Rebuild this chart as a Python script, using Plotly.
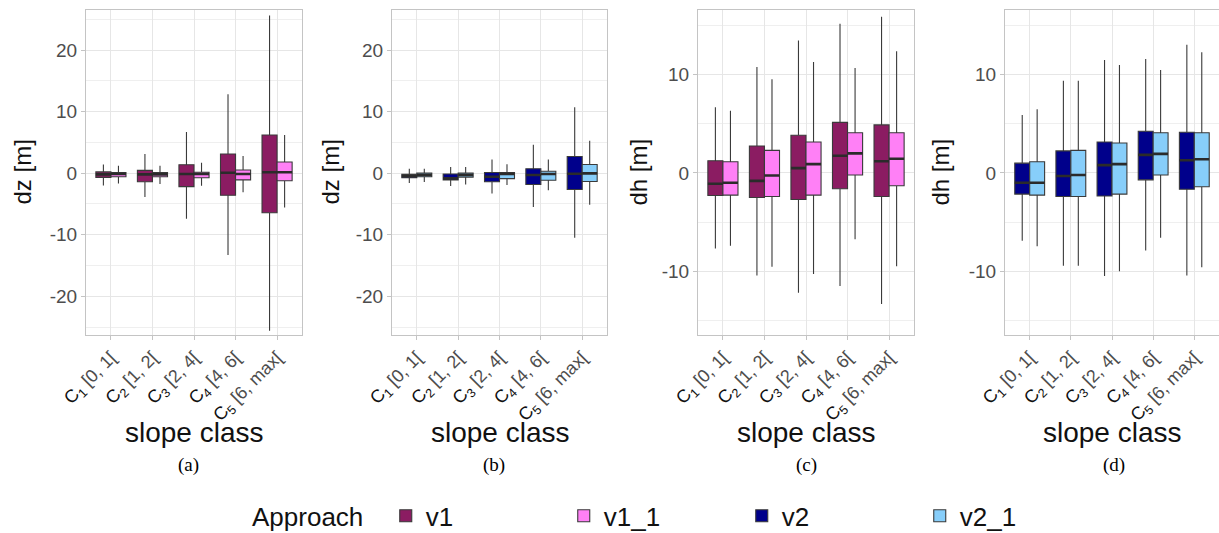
import plotly.graph_objects as go

# ---------------- data ----------------
class_idx = ["1", "2", "3", "4", "5"]
intervals = ["[0, 1[", "[1, 2[", "[2, 4[", "[4, 6[", "[6, max["]
categories = [f'<span style="color:#111111">C<sub>{c}</sub></span> {iv}' for c, iv in zip(class_idx, intervals)]

dz_ticks = [-20, -10, 0, 10, 20]
dh_ticks = [-10, 0, 10]

# panel (a): dz, v1 / v1_1
a_v1_lf = [-2.0, -3.9, -7.4, -13.3, -25.6]
a_v1_q1 = [-0.7, -1.4, -2.2, -3.6, -6.45]
a_v1_med = [-0.2, -0.2, -0.15, 0.05, 0.15]
a_v1_q3 = [0.2, 0.45, 1.35, 3.1, 6.2]
a_v1_uf = [1.4, 3.1, 6.7, 12.8, 25.6]

a_v11_lf = [-1.7, -1.75, -2.05, -3.1, -5.6]
a_v11_q1 = [-0.6, -0.6, -0.75, -1.1, -1.25]
a_v11_med = [-0.15, -0.2, -0.15, -0.15, 0.15]
a_v11_q3 = [0.1, 0.1, 0.15, 0.5, 1.8]
a_v11_uf = [1.2, 1.2, 1.7, 2.8, 6.2]

# panel (b): dz, v2 / v2_1
b_v2_lf = [-1.6, -2.1, -3.3, -5.5, -10.5]
b_v2_q1 = [-0.75, -1.1, -1.4, -1.85, -2.65]
b_v2_med = [-0.5, -0.85, -0.6, -0.3, -0.1]
b_v2_q3 = [-0.2, -0.15, 0.1, 0.7, 2.7]
b_v2_uf = [0.7, 1.0, 2.2, 4.6, 10.7]

b_v21_lf = [-1.45, -1.85, -1.95, -2.8, -5.15]
b_v21_q1 = [-0.6, -0.65, -0.9, -1.15, -1.35]
b_v21_med = [-0.3, -0.3, -0.15, -0.15, -0.05]
b_v21_q3 = [0.0, 0.0, 0.1, 0.3, 1.4]
b_v21_uf = [0.7, 1.0, 1.45, 2.2, 5.25]

# panel (c): dh, v1 / v1_1
c_v1_lf = [-7.7, -10.45, -12.2, -11.5, -13.35]
c_v1_q1 = [-2.3, -2.5, -2.7, -1.6, -2.4]
c_v1_med = [-1.1, -0.8, 0.5, 1.75, 1.2]
c_v1_q3 = [1.25, 2.75, 3.85, 5.15, 4.9]
c_v1_uf = [6.7, 10.8, 13.5, 15.2, 15.9]

c_v11_lf = [-7.4, -9.55, -10.3, -6.75, -9.5]
c_v11_q1 = [-2.25, -2.4, -2.25, -0.2, -1.3]
c_v11_med = [-1.0, -0.25, 0.9, 2.0, 1.45]
c_v11_q3 = [1.15, 2.3, 3.15, 4.1, 4.1]
c_v11_uf = [6.35, 9.55, 11.3, 10.7, 12.4]

# panel (d): dh, v2 / v2_1
d_v2_lf = [-6.9, -9.45, -10.5, -7.9, -10.45]
d_v2_q1 = [-2.15, -2.4, -2.35, -0.7, -1.65]
d_v2_med = [-1.0, -0.3, 0.8, 1.85, 1.3]
d_v2_q3 = [1.0, 2.25, 3.15, 4.25, 4.15]
d_v2_uf = [5.9, 9.4, 11.5, 11.6, 13.05]

d_v21_lf = [-7.45, -9.45, -10.0, -6.6, -9.6]
d_v21_q1 = [-2.25, -2.4, -2.15, -0.2, -1.4]
d_v21_med = [-1.0, -0.2, 0.9, 1.95, 1.4]
d_v21_q3 = [1.15, 2.3, 3.05, 4.1, 4.1]
d_v21_uf = [6.5, 9.4, 11.0, 10.5, 12.3]

colors = {"v1": "#8B1C62", "v1_1": "#FF80F6", "v2": "#00008B", "v2_1": "#87CEFA"}

panels = [
    ("x", "y", [("v1", a_v1_lf, a_v1_q1, a_v1_med, a_v1_q3, a_v1_uf),
                ("v1_1", a_v11_lf, a_v11_q1, a_v11_med, a_v11_q3, a_v11_uf)]),
    ("x2", "y2", [("v2", b_v2_lf, b_v2_q1, b_v2_med, b_v2_q3, b_v2_uf),
                  ("v2_1", b_v21_lf, b_v21_q1, b_v21_med, b_v21_q3, b_v21_uf)]),
    ("x3", "y3", [("v1", c_v1_lf, c_v1_q1, c_v1_med, c_v1_q3, c_v1_uf),
                  ("v1_1", c_v11_lf, c_v11_q1, c_v11_med, c_v11_q3, c_v11_uf)]),
    ("x4", "y4", [("v2", d_v2_lf, d_v2_q1, d_v2_med, d_v2_q3, d_v2_uf),
                  ("v2_1", d_v21_lf, d_v21_q1, d_v21_med, d_v21_q3, d_v21_uf)]),
]

fig = go.Figure()
shown = set()
# main boxes
for xa, ya, series in panels:
    for name, lf, q1, med, q3, uf in series:
        fig.add_trace(go.Box(
            x=categories, lowerfence=lf, q1=q1, median=med, q3=q3, upperfence=uf,
            name=name, legendgroup=name, showlegend=name not in shown,
            offsetgroup=name, fillcolor=colors[name],
            line=dict(color="#3a3a3a", width=1.1), whiskerwidth=0,
            boxpoints=False, xaxis=xa, yaxis=ya, hoverinfo="skip"))
        shown.add(name)
# thicker median overlays
for xa, ya, series in panels:
    for name, lf, q1, med, q3, uf in series:
        fig.add_trace(go.Box(
            x=categories, lowerfence=med, q1=med, median=med, q3=med, upperfence=med,
            name=name, legendgroup=name, showlegend=False, offsetgroup=name,
            fillcolor="rgba(0,0,0,0)", line=dict(color="#2b2b2b", width=2.6),
            whiskerwidth=0, boxpoints=False, xaxis=xa, yaxis=ya, hoverinfo="skip"))

W, H = 1219, 533
xdom = [(86, 302), (392, 607), (698, 914), (1005, 1219)]
ydom = [1 - 335 / H, 1 - 10 / H]
yranges = [[-26.3, 26.5], [-26.3, 26.5], [-16.5, 16.6], [-16.5, 16.6]]
yticks = [dz_ticks, dz_ticks, dh_ticks, dh_ticks]

grid = "#E6E6E6"
border = "#C4C4C4"
layout = dict(
    template="none",
    width=W, height=H, margin=dict(l=0, r=0, t=0, b=0, pad=0, autoexpand=False),
    paper_bgcolor="white", plot_bgcolor="white",
    boxmode="group", boxgap=0.275, boxgroupgap=0.0,
    font=dict(family="Liberation Sans, Arial, sans-serif", color="#4D4D4D"),
    showlegend=True,
)
for i in range(4):
    sfx = "" if i == 0 else str(i + 1)
    layout["xaxis" + sfx] = dict(
        domain=[xdom[i][0] / W, xdom[i][1] / W], anchor="y" + sfx,
        type="category", categoryorder="array", categoryarray=categories,
        range=[-0.6, 4.6], showgrid=True, gridcolor=grid, gridwidth=1,
        showline=True, linecolor=border, linewidth=1, mirror=True,
        ticks="outside", ticklen=4, tickcolor=border, tickangle=-45,
        tickfont=dict(size=18, color="#4D4D4D"), zeroline=False, automargin=False)
    layout["yaxis" + sfx] = dict(
        domain=ydom, anchor="x" + sfx, range=yranges[i],
        tickmode="array", tickvals=yticks[i], ticktext=[str(v) for v in yticks[i]],
        showgrid=True, gridcolor=grid, gridwidth=1,
        minor=dict(tickmode="linear", tick0=0, dtick=5, showgrid=True, gridcolor="#EFEFEF", gridwidth=1, ticks=""),
        showline=True, linecolor=border, linewidth=1, mirror=True,
        ticks="outside", ticklen=4, tickcolor=border,
        tickfont=dict(size=19, color="#4D4D4D"), zeroline=False, automargin=False)

layout["legend"] = dict(
    orientation="h", x=250 / W, xanchor="left", y=-0.012, yanchor="bottom",
    title=dict(text="Approach&nbsp;&nbsp;", side="left", font=dict(size=26, color="#111111")),
    font=dict(size=26, color="#111111"), entrywidth=133, bgcolor="rgba(0,0,0,0)")

fig.update_layout(**layout)

ytitles = ["dz [m]", "dz [m]", "dh [m]", "dh [m]"]
ytitle_x = [22, 330, 638, 940]
xtitle_c = [194, 500, 806, 1112]
captions = ["(a)", "(b)", "(c)", "(d)"]
caption_x = [188, 494, 806, 1114]
for i in range(4):
    fig.add_annotation(text=ytitles[i], x=ytitle_x[i] / W, y=1 - 172.5 / H,
                       xref="paper", yref="paper", textangle=-90, showarrow=False,
                       font=dict(size=24, color="#111111"), xanchor="center", yanchor="middle")
    fig.add_annotation(text="slope class", x=xtitle_c[i] / W, y=1 - 432 / H,
                       xref="paper", yref="paper", showarrow=False,
                       font=dict(size=28, color="#111111"), xanchor="center", yanchor="middle")
    fig.add_annotation(text=captions[i], x=caption_x[i] / W, y=1 - 465 / H,
                       xref="paper", yref="paper", showarrow=False,
                       font=dict(size=19, color="#000000", family="Liberation Serif, Times New Roman, serif"),
                       xanchor="center", yanchor="middle")

fig.write_html("out.html", config={"displayModeBar": False},
               post_script="document.body.style.margin='0';document.body.style.overflow='hidden';")
